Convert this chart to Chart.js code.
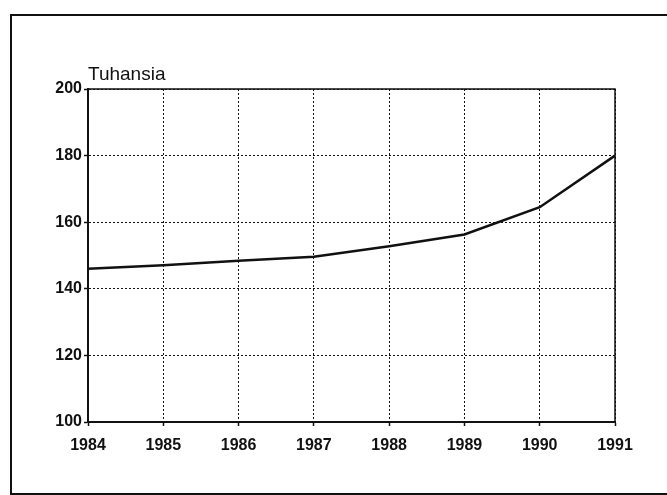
<!DOCTYPE html>
<html><head><meta charset="utf-8">
<script src="https://cdn.jsdelivr.net/npm/chart.js@4/dist/chart.umd.min.js"></script>
<style>
html,body{margin:0;padding:0;background:#fff;width:667px;height:495px;overflow:hidden}
#wrap{position:relative;width:667px;height:495px}
#frame{position:absolute;left:10px;top:14px;width:700px;height:481px;border:2px solid #111;border-right:none;box-sizing:border-box}
canvas{position:absolute;left:0;top:0}
</style></head>
<body><div id="wrap"><div id="frame"></div><canvas id="c" width="667" height="495"></canvas></div>
<script>
const years = ['1984','1985','1986','1987','1988','1989','1990','1991'];
const values = [146, 147.1, 148.4, 149.6, 152.8, 156.3, 164.5, 180];
const yTicks = [100, 120, 140, 160, 180, 200];
const unitLabel = 'Tuhansia';

const FONT = '"Liberation Sans", Arial, Helvetica, sans-serif';

const framePlugin = {
  id: 'framePlugin',
  afterDraw(chart) {
    const {ctx, chartArea: a} = chart;
    ctx.save();
    ctx.strokeStyle = '#111';
    ctx.lineWidth = 1.5;
    ctx.beginPath();
    ctx.moveTo(a.left, a.top);
    ctx.lineTo(a.right, a.top);
    ctx.lineTo(a.right, a.bottom);
    ctx.stroke();
    ctx.fillStyle = '#111';
    ctx.font = '19px ' + FONT;
    ctx.textAlign = 'left';
    ctx.textBaseline = 'alphabetic';
    ctx.fillText(unitLabel, a.left, a.top - 9);
    ctx.restore();
  }
};

new Chart(document.getElementById('c'), {
  type: 'line',
  data: {
    labels: years,
    datasets: [{
      data: values,
      borderColor: '#111',
      borderWidth: 2.5,
      pointRadius: 0,
      tension: 0,
      fill: false
    }]
  },
  options: {
    responsive: false,
    animation: false,
    layout: {padding: {top: 89, right: 52, bottom: 0, left: 0}},
    plugins: {legend: {display: false}, tooltip: {enabled: false}},
    scales: {
      x: {
        type: 'category',
        offset: false,
        grid: {color: '#111', lineWidth: 1, tickLength: 4, tickColor: '#111', tickWidth: 1.5, tickBorderDash: []},
        border: {display: true, color: '#111', width: 2, dash: [2, 2]},
        ticks: {font: {family: FONT, size: 16, weight: 'bold'}, color: '#111', padding: 10, maxRotation: 0, autoSkip: false},
        afterFit: s => { s.height = 73; }
      },
      y: {
        min: 100, max: 200,
        afterBuildTicks: s => { s.ticks = yTicks.map(v => ({value: v})); },
        grid: {color: '#111', lineWidth: 1, tickLength: 4, tickColor: '#111', tickWidth: 1.5, tickBorderDash: []},
        border: {display: true, color: '#111', width: 2, dash: [2, 2]},
        ticks: {font: {family: FONT, size: 16, weight: 'bold'}, color: '#111', padding: 2},
        afterFit: s => { s.width = 88; }
      }
    }
  },
  plugins: [framePlugin]
});
</script>
</body></html>
